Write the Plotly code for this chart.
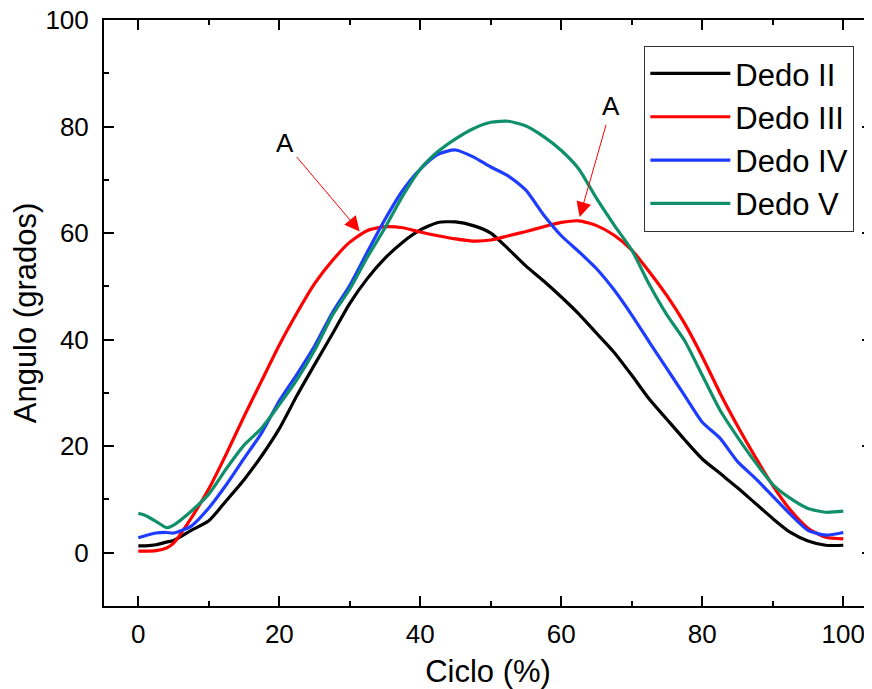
import plotly.graph_objects as go

ciclo = [0, 1, 2.5, 4, 5, 7.5, 10, 12.5, 15, 17.5, 20, 22.5, 25, 27.5, 30, 32.5, 35, 37.5, 40,
         42.5, 45, 47.5, 50, 52.5, 55, 57.5, 60, 62.5, 65, 67.5, 70, 72.5, 75, 77.5, 80,
         82.5, 85, 87.5, 90, 92.5, 95, 97.5, 100]

dedo_ii = [1.3, 1.3, 1.5, 2.0, 2.3, 4.2, 6.0, 9.8, 13.7, 18.2, 23.3, 29.5, 35.3, 41.0, 46.8,
           51.5, 55.3, 58.3, 60.6, 62.0, 62.1, 61.4, 60.0, 57.0, 53.8, 51.0, 48.0, 44.8, 41.2,
           37.6, 33.3, 28.8, 25.0, 21.2, 17.6, 14.9, 12.2, 9.3, 6.4, 3.8, 2.2, 1.4, 1.4]

dedo_iii = [0.3, 0.3, 0.4, 0.9, 1.8, 6.5, 12.0, 18.6, 25.6, 32.3, 39.0, 45.0, 50.5, 54.8, 58.3,
            60.5, 61.2, 61.0, 60.2, 59.5, 58.9, 58.5, 58.7, 59.5, 60.3, 61.2, 62.0, 62.3, 61.4,
            59.6, 56.8, 52.7, 48.2, 43.0, 36.8, 30.0, 23.8, 18.0, 12.6, 8.0, 4.6, 2.9, 2.6]

dedo_iv = [2.8, 3.2, 3.7, 3.8, 3.7, 5.0, 8.4, 12.8, 17.7, 22.5, 28.5, 33.5, 38.8, 45.0, 50.2,
           56.5, 62.6, 68.0, 72.0, 74.8, 75.6, 74.3, 72.4, 70.7, 68.0, 63.4, 59.5, 56.5, 53.3,
           49.3, 44.6, 39.5, 34.5, 29.5, 24.5, 21.5, 17.1, 14.0, 10.6, 7.2, 4.2, 3.3, 3.8]

dedo_v = [7.4, 7.0, 5.9, 4.7, 5.2, 7.8, 11.0, 15.8, 20.2, 23.4, 27.8, 32.5, 38.0, 44.5, 49.5,
          55.5, 61.0, 67.0, 72.0, 75.3, 77.7, 79.6, 80.8, 81.0, 80.1, 78.1, 75.5, 72.0, 66.5,
          61.5, 56.8, 50.3, 44.6, 39.8, 33.3, 26.8, 21.7, 17.0, 12.8, 10.2, 8.3, 7.6, 7.8]

series_names = ["Dedo II", "Dedo III", "Dedo IV", "Dedo V"]
series_vals = [dedo_ii, dedo_iii, dedo_iv, dedo_v]
series_colors = ["#000000", "#FF0000", "#1E3CFF", "#0F906A"]

FONT = "Liberation Sans, Arial, sans-serif"

fig = go.Figure()
for name, vals, col in zip(series_names, series_vals, series_colors):
    fig.add_trace(go.Scatter(x=ciclo, y=vals, mode="lines", name=name,
                             line=dict(color=col, width=3.2, shape="spline", smoothing=0.6)))

ann = [
    dict(x=31.4, y=60.3, ax=20.8, ay=76.9),
    dict(x=62.6, y=63.0, ax=67.1, ay=83.8),
]
for a in ann:
    fig.add_annotation(x=a["x"], y=a["y"], ax=a["ax"], ay=a["ay"], xref="x", yref="y",
                       axref="x", ayref="y", text="A", showarrow=True,
                       arrowhead=2, arrowsize=3, arrowwidth=1, arrowcolor="#FF0000",
                       standoff=0, startstandoff=2,
                       font=dict(family=FONT, size=26, color="#000000"))

axis_common = dict(
    showline=True, linecolor="#000000", linewidth=2, mirror="ticks",
    ticks="inside", ticklen=10, tickwidth=2, tickcolor="#000000",
    showgrid=False, zeroline=False, automargin=False, ticklabeloverflow="allow",
    tickfont=dict(family=FONT, size=26, color="#000000"),
)

fig.update_xaxes(**axis_common, range=[-4.87, 104.07], tickmode="linear", tick0=0, dtick=20,
                 minor=dict(ticks="inside", ticklen=5, tickwidth=2, dtick=10, tick0=0,
                            tickcolor="#000000"),
                 ticklabelstandoff=4,
                 title=dict(text="Ciclo (%)", font=dict(family=FONT, size=31, color="#000000"),
                            standoff=17))
fig.update_yaxes(**axis_common, range=[-10, 100], tickmode="linear", tick0=0, dtick=20,
                 minor=dict(ticks="inside", ticklen=5, tickwidth=2, dtick=10, tick0=0,
                            tickcolor="#000000"),
                 ticklabelstandoff=8,
                 title=dict(text="Angulo (grados)", font=dict(family=FONT, size=31, color="#000000"),
                            standoff=4))

fig.update_layout(
    width=864, height=681,
    margin=dict(l=96, r=0, t=12, b=83),
    plot_bgcolor="#FFFFFF", paper_bgcolor="#FFFFFF",
    font=dict(family=FONT, color="#000000"),
    legend=dict(x=0.977, y=0.956, xanchor="right", yanchor="top",
                bgcolor="#FFFFFF", bordercolor="#333333", borderwidth=1,
                font=dict(family=FONT, size=31, color="#000000"),
                itemwidth=80, tracegroupgap=0),
    showlegend=True,
)

fig.write_html("out.html")
